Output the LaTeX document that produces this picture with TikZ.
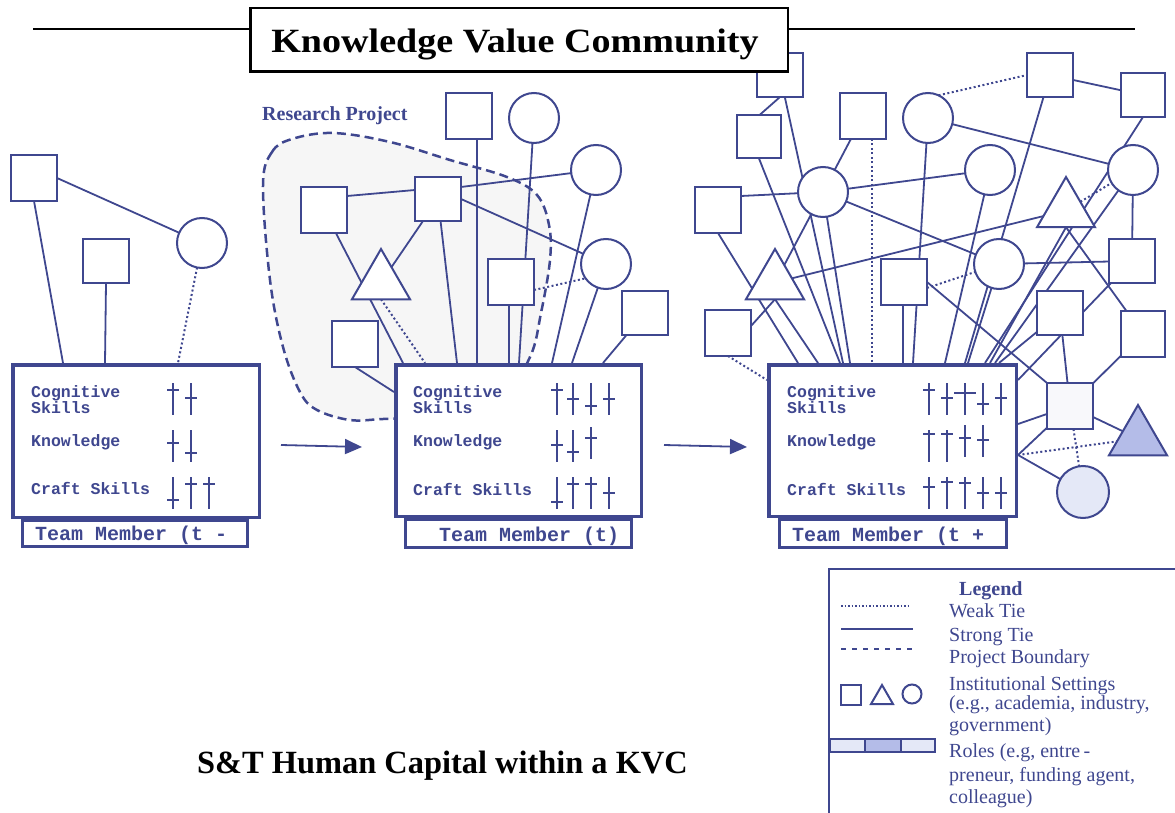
\documentclass[tikz,border=0pt]{standalone}
\usepackage{fontspec}
\usepackage{graphicx}
\setmainfont{Liberation Serif}
\newfontfamily\kvmono{Liberation Mono}
\usetikzlibrary{shapes.geometric,arrows.meta}
\definecolor{kvc}{RGB}{63,71,143}
\definecolor{blobgray}{RGB}{246,246,246}
\definecolor{rolelight}{RGB}{228,232,247}
\definecolor{roledark}{RGB}{180,188,232}
\definecolor{sqlight}{RGB}{248,248,251}
\pgfdeclarelayer{back}
\pgfdeclarelayer{edges}
\pgfdeclarelayer{front}
\pgfsetlayers{back,edges,main,front}
\newcommand{\kvt}[4][6]{\draw[tallyst] (#2,#3) -- ++(0,32) (#2-#1,#4) -- (#2+#1,#4);}
\begin{document}
\begin{tikzpicture}[x=1pt,y=-1pt,
  sq/.style={draw=kvc, line width=2pt, fill=white, minimum width=46pt, minimum height=46pt, inner sep=0pt, outer sep=0pt},
  circ/.style={circle, draw=kvc, line width=2pt, fill=white, minimum size=50pt, inner sep=0pt, outer sep=0pt},
  tri/.style={regular polygon, regular polygon sides=3, draw=kvc, line width=2pt, fill=white, minimum size=67pt, inner sep=0pt, outer sep=0pt},
  tie/.style={draw=kvc, line width=1.8pt},
  weak/.style={draw=kvc, line width=2pt, dash pattern=on 2pt off 2.5pt},
  tmbox/.style={draw=kvc, line width=3.5pt, fill=white, inner sep=0pt, outer sep=0pt, anchor=north west},
  tabbox/.style={draw=kvc, line width=3pt, fill=white, inner sep=0pt, outer sep=0pt, anchor=north west},
  boxtext/.style={anchor=base west, inner sep=0pt, text=kvc, font=\kvmono\bfseries\fontsize{16.5}{15}\selectfont},
  tabtext/.style={anchor=base west, inner sep=0pt, text=kvc, font=\kvmono\bfseries\fontsize{20}{22}\selectfont},
  legtext/.style={anchor=base west, inner sep=0pt, text=kvc, font=\fontsize{20}{22}\selectfont},
  tallyst/.style={draw=kvc, line width=2.2pt},
  flow/.style={draw=kvc, line width=1.8pt, -{Triangle[length=17pt,width=15pt]}}
]
\useasboundingbox (0,0) rectangle (1175,813);

% ---------- title ----------
\coordinate (tl1) at (33,29);
\coordinate (tl2) at (1135,29);
\begin{pgfonlayer}{back}
\draw[black, line width=2.5pt] (tl1) -- (tl2);
\draw[kvc, fill=blobgray, line width=2.5pt, dash pattern=on 9pt off 5pt]
  plot[smooth cycle, tension=0.6] coordinates {(263,185) (272,152) (292,139) (333,133) (390,142) (450,160) (507,177) (537,195) (549,225) (550,260) (541,313) (530,357) (500,400) (440,416) (383,419) (350,420) (317,410) (300,392) (283,347) (270,280)};
\end{pgfonlayer}
\begin{pgfonlayer}{front}
\node[draw=black, line width=2.5pt, fill=white, minimum width=537.5pt, minimum height=63.5pt, inner sep=0pt, outer sep=0pt, anchor=north west] (titlebox) at (250.25,8.25) {};
\node[anchor=base, inner sep=0pt] (title) at (515,53) {\scalebox{1.12}[1]{\bfseries\fontsize{34}{40}\selectfont Knowledge Value Community}};
\end{pgfonlayer}

\node[anchor=base west, inner sep=0pt, text=kvc, font=\bfseries\fontsize{20}{22}\selectfont] (rp) at (262,121) {Research Project};
\node[anchor=base west, inner sep=0pt, font=\bfseries\fontsize{32.4}{38}\selectfont] (caption) at (197,773) {S\&T Human Capital within a KVC};

% ---------- left network ----------
\node[sq] (L1) at (34,178) {};
\node[sq, minimum height=44pt] (L2) at (106,261) {};
\node[circ] (L3) at (202,243) {};

% ---------- middle network ----------
\node[sq] (M1) at (469,116) {};
\node[circ] (M2) at (534,118) {};
\node[circ] (M3) at (596,170) {};
\node[sq] (M4) at (324,210) {};
\node[sq, minimum height=44pt] (M5) at (438,199) {};
\node[tri] (M6) at (381,282.5) {};
\node[sq] (M7) at (355,344) {};
\node[sq] (M8) at (511,282) {};
\node[circ] (M9) at (606,264) {};
\node[sq, minimum height=44pt] (M10) at (645,313) {};

% ---------- right network ----------
\node[sq, minimum height=44pt] (R1) at (780,75) {};
\node[sq, minimum width=44pt, minimum height=43pt] (R2) at (759,137) {};
\node[sq] (R3) at (863,116) {};
\node[circ] (R4) at (928,118) {};
\node[sq] (R5) at (718,210) {};
\node[circ] (R6) at (823,192) {};
\node[tri] (R7) at (775,282.5) {};
\node[sq] (R8) at (728,333) {};
\node[sq] (R9) at (904,282) {};
\node[sq, minimum height=44pt] (R10) at (1050,75) {};
\node[sq, minimum width=44pt, minimum height=44pt] (R11) at (1143,95) {};
\node[circ] (R12) at (990,170) {};
\node[circ] (R13) at (1133,170) {};
\node[tri] (R14) at (1066,210.5) {};
\node[circ] (R15) at (999,264) {};
\node[sq, minimum height=44pt] (R16) at (1132,261) {};
\node[sq, minimum height=44pt] (R17) at (1060,313) {};
\node[sq, minimum width=44pt] (R18) at (1143,334) {};
\node[sq, fill=sqlight] (R19) at (1070,406) {};
\node[tri, fill=roledark] (R20) at (1138,438.5) {};
\node[circ, fill=rolelight, minimum size=52pt] (R21) at (1083,492) {};

% ---------- team member boxes ----------
\node[tabbox, minimum width=225pt, minimum height=26pt] (tabA) at (22.5,520.5) {};
\node[tmbox, minimum width=246.5pt, minimum height=152.5pt] (boxA) at (12.75,364.75) {};
\node[tabbox, minimum width=226pt, minimum height=28pt] (tabB) at (405.5,519.5) {};
\node[tmbox, minimum width=245.5pt, minimum height=151.5pt] (boxB) at (395.75,364.75) {};
\node[tabbox, minimum width=227pt, minimum height=28pt] (tabC) at (779.5,519.5) {};
\node[tmbox, minimum width=247.5pt, minimum height=151.5pt] (boxC) at (768.75,364.75) {};

\node[tabtext] (tmA) at (35,540) {Team Member (t -};
\node[tabtext] (tmB) at (439,541) {Team Member (t)};
\node[tabtext] (tmC) at (792,541) {Team Member (t +};

\node[boxtext] (cgA) at (31,397) {Cognitive};
\node[boxtext] (skA) at (31,413) {Skills};
\node[boxtext] (knA) at (31,446) {Knowledge};
\node[boxtext] (crA) at (31,494) {Craft Skills};
\node[boxtext] (cgB) at (413,397) {Cognitive};
\node[boxtext] (skB) at (413,413) {Skills};
\node[boxtext] (knB) at (413,446) {Knowledge};
\node[boxtext] (crB) at (413,495) {Craft Skills};
\node[boxtext] (cgC) at (787,397) {Cognitive};
\node[boxtext] (skC) at (787,413) {Skills};
\node[boxtext] (knC) at (787,446) {Knowledge};
\node[boxtext] (crC) at (787,495) {Craft Skills};

% tallies left
\kvt{173}{383}{390}\kvt{191}{383}{398}
\kvt{173}{430}{443}\kvt{191}{430}{453}
\kvt{173}{477}{500}\kvt{191}{477}{484}\kvt{209}{477}{484}
% tallies middle
\kvt{557}{383}{390}\kvt{573}{383}{399}\kvt{591}{383}{406}\kvt{609}{383}{399}
\kvt{557}{430}{445}\kvt{573}{430}{452}\kvt{591}{427}{438}
\kvt{557}{477}{502}\kvt{573}{477}{484}\kvt{591}{477}{484}\kvt{609}{477}{493}
% tallies right
\kvt{929}{383}{390}\kvt{947}{383}{398}\kvt[11]{965}{383}{393}\kvt{983}{383}{404}\kvt{1001}{383}{398}
\kvt{929}{430}{434}\kvt{947}{430}{434}\kvt{965}{425}{438}\kvt{983}{425}{440}
\kvt{929}{477}{487}\kvt{947}{477}{482}\kvt{965}{477}{483}\kvt{983}{477}{493}\kvt{1001}{477}{493}

% ---------- connector end points ----------
\coordinate (a1) at (63,363);
\coordinate (a2) at (105,363);
\coordinate (a3) at (178,363);
\coordinate (b1) at (403,363);
\coordinate (b2) at (425,363);
\coordinate (b3) at (457,363);
\coordinate (b4) at (477,363);
\coordinate (b5) at (509,363);
\coordinate (b6) at (519,363);
\coordinate (b7) at (552,363);
\coordinate (b8) at (572,363);
\coordinate (b9) at (603,363);
\coordinate (b10) at (394,392);
\coordinate (c1) at (798,363);
\coordinate (c2) at (818,363);
\coordinate (c3) at (840,363);
\coordinate (c4) at (843,363);
\coordinate (c5) at (850,363);
\coordinate (c6) at (872,363);
\coordinate (c7) at (903,363);
\coordinate (c8) at (913,363);
\coordinate (c9) at (945,363);
\coordinate (c10) at (965,363);
\coordinate (c11) at (968,363);
\coordinate (c12) at (985,363);
\coordinate (c13) at (990,363);
\coordinate (c14) at (995,363);
\coordinate (c15) at (999,363);
\coordinate (c16) at (1018,380);
\coordinate (c17) at (1018,424);
\coordinate (c18) at (1018,455);
\coordinate (c19) at (767,380);
\coordinate (arA1) at (281,445);
\coordinate (arA2) at (362,447);
\coordinate (arB1) at (664,445);
\coordinate (arB2) at (747,447);

\draw[flow] (arA1) -- (arA2);
\draw[flow] (arB1) -- (arB2);

\begin{pgfonlayer}{edges}
% left
\draw[tie] (L1.east) -- (L3);
\draw[tie] (L1.south) -- (a1);
\draw[tie] (L2.south) -- (a2);
\draw[weak] (L3) -- (a3);
% middle
\draw[tie] ([yshift=14pt]M4.east) -- ([yshift=9pt]M5.west);
\draw[tie] ([yshift=12pt]M5.east) -- (M3);
\draw[tie] (M5.east) -- (M9);
\draw[tie] (M4) -- (b1);
\draw[tie] (M6) -- (M5);
\draw[weak] (M6.side 2) -- (b2);
\draw[tie] (M7.south) -- (b10);
\draw[tie] (M5) -- (b3);
\draw[tie] (M1.south -| b4) -- (b4);
\draw[tie] (M8.south -| b5) -- (b5);
\draw[tie] (M2) -- (b6);
\draw[weak] ([yshift=-8pt]M8.east) -- (M9.215);
\draw[tie] (M3) -- (b7);
\draw[tie] (M9) -- (b8);
\draw[tie] (M10) -- (b9);
% right
\draw[tie] (R1.south) -- (R2.north);
\draw[tie] (R1) -- (c4);
\draw[tie] (R2.south) -- (c3);
\draw[tie] (R5.south) -- (c1);
\draw[tie] ([yshift=14pt]R5.east) -- (R6);
\draw[tie] (R6) -- (R3);
\draw[tie] (R6) -- (R12);
\draw[tie] (R6) -- (R15);
\draw[tie] (R6) -- (c5);
\draw[tie] (R7) -- (R6);
\draw[tie] (R7) -- (R14);
\draw[tie] (R7.side 2) -- (c2);
\draw[tie] ([yshift=7pt]R8.east) -- (R7.side 2);
\draw[weak] (R8.south) -- (c19);
\draw[weak] (R3.south -| c6) -- (c6);
\draw[weak] (R4.65) -- (R10.west);
\draw[tie] (R4) -- (R13);
\draw[tie] (R4) -- (c8);
\draw[tie] (R9.south -| c7) -- (c7);
\draw[weak] ([yshift=-6pt]R9.east) -- (R15);
\draw[tie] (R9.east) -- (R19.north west);
\draw[tie] (R10) -- (R11);
\draw[tie] (R10) -- (c10);
\draw[tie] (R11.south) -- (c12);
\draw[tie] (R12) -- (c9);
\draw[tie] (R13) -- (R16);
\draw[weak] (R14) -- (R13);
\draw[tie] (R13) -- (c14);
\draw[tie] (R14.side 2) -- (R18);
\draw[tie] (R14.side 2) -- (c13);
\draw[tie] (R15) -- (R16);
\draw[tie] (R15) -- (c11);
\draw[tie] (R16) -- (c16);
\draw[tie] (R17) -- (c15);
\draw[tie] (R17) -- (R19);
\draw[tie] (R18) -- (R19);
\draw[tie] (R19) -- (c17);
\draw[tie] (R19) -- (R20);
\draw[weak] (R19) -- (R21);
\draw[weak] (c18) -- (R20);
\draw[tie] (c18) -- (R19);
\draw[tie] (c18) -- (R21);
\end{pgfonlayer}

% ---------- legend ----------
\coordinate (lg1) at (829,813);
\coordinate (lg2) at (829,569);
\coordinate (lg3) at (1175,569);
\draw[kvc, line width=2pt] (lg1) -- (lg2) -- (lg3);
\node[anchor=base west, inner sep=0pt, text=kvc, font=\bfseries\fontsize{20}{22}\selectfont] (lgtitle) at (959,595) {Legend};
\coordinate (lw1) at (841,606);
\coordinate (lw2) at (911,606);
\coordinate (ls1) at (841,629);
\coordinate (ls2) at (913,629);
\coordinate (ld1) at (841,649);
\coordinate (ld2) at (913,649);
\draw[kvc, line width=1.5pt, dash pattern=on 1.5pt off 2pt] (lw1) -- (lw2);
\draw[kvc, line width=2pt] (ls1) -- (ls2);
\draw[kvc, line width=2pt, dash pattern=on 5pt off 6pt] (ld1) -- (ld2);
\node[sq, minimum width=20pt, minimum height=20pt] (lsq) at (851,695) {};
\node[tri, minimum size=25.4pt] (ltri) at (882,697.7) {};
\node[circ, minimum size=19pt] (lcirc) at (912,694) {};
\node[tabbox, line width=2pt, fill=rolelight, minimum width=35pt, minimum height=13pt] (role1) at (830,739) {};
\node[tabbox, line width=2pt, fill=roledark, minimum width=36pt, minimum height=13pt] (role2) at (865,739) {};
\node[tabbox, line width=2pt, fill=rolelight, minimum width=34pt, minimum height=13pt] (role3) at (901,739) {};
\node[legtext] (lt1) at (949,617) {Weak Tie};
\node[legtext] (lt2) at (949,641) {Strong Tie};
\node[legtext] (lt3) at (949,663) {Project Boundary};
\node[legtext] (lt4) at (949,690) {Institutional Settings};
\node[legtext] (lt5) at (949,709) {(e.g., academia, industry,};
\node[legtext] (lt6) at (949,731) {government)};
\node[legtext] (lt7) at (949,757) {Roles (e.g, entre\,-};
\node[legtext] (lt8) at (949,781) {preneur, funding agent,};
\node[legtext] (lt9) at (949,803) {colleague)};
\end{tikzpicture}
\end{document}
